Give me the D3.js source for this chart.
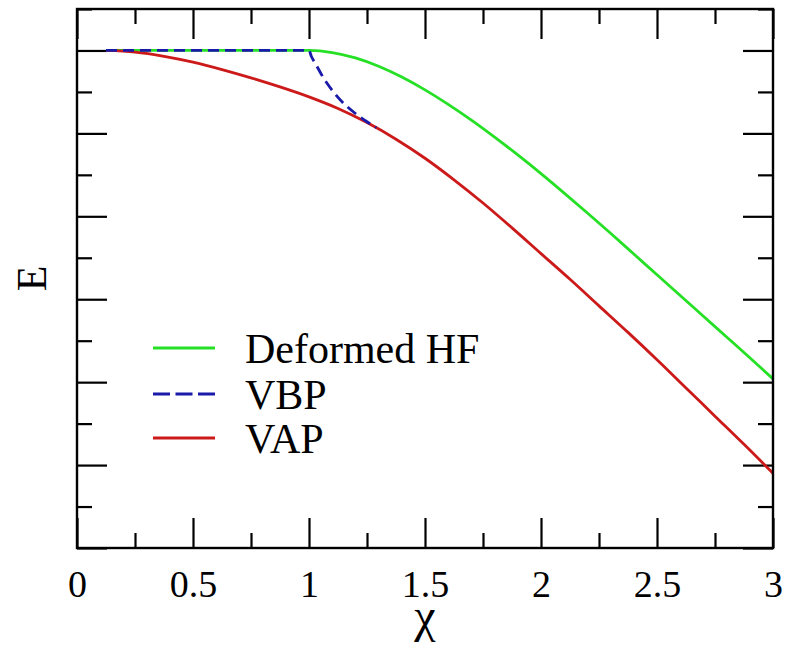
<!DOCTYPE html>
<html>
<head>
<meta charset="utf-8">
<script src="https://cdn.jsdelivr.net/npm/d3@7"></script>
<style>
  html, body { margin: 0; padding: 0; background: #fff; }
  svg { display: block; }
  text { font-family: "Liberation Serif", "Times New Roman", serif; fill: #000; }
</style>
</head>
<body>
<svg id="chart" width="788" height="650"></svg>
<script>
// ---------- data ----------
const hfChi = [0.125, 0.25, 0.5, 0.75, 1.0, 1.1, 1.2, 1.3, 1.4, 1.5, 1.6, 1.7, 1.8, 1.9, 2.0, 2.1, 2.2, 2.3, 2.4, 2.5, 2.6, 2.7, 2.8, 2.9, 3.0];
const hfE   = [0, 0, 0, 0, 0, -0.025, -0.09, -0.19, -0.32, -0.475, -0.65, -0.84, -1.045, -1.26, -1.485, -1.72, -1.96, -2.205, -2.455, -2.705, -2.955, -3.205, -3.455, -3.705, -3.96];

const vbpChi = [0.125, 0.25, 0.5, 0.75, 1.0, 1.01, 1.03, 1.06, 1.1, 1.15, 1.2, 1.25, 1.29];
const vbpE   = [0, 0, 0, 0, 0, -0.07, -0.17, -0.32, -0.48, -0.64, -0.76, -0.86, -0.93];

const vapChi = [0.125, 0.25, 0.375, 0.5, 0.625, 0.75, 0.875, 1.0, 1.125, 1.25, 1.375, 1.5, 1.625, 1.75, 1.875, 2.0, 2.125, 2.25, 2.375, 2.5, 2.625, 2.75, 2.875, 3.0];
const vapE   = [0, -0.02, -0.07, -0.14, -0.23, -0.33, -0.44, -0.56, -0.70, -0.87, -1.07, -1.30, -1.56, -1.84, -2.14, -2.45, -2.76, -3.08, -3.40, -3.73, -4.07, -4.41, -4.75, -5.10];

const seriesNames  = ["Deformed HF", "VBP", "VAP"];
const seriesColors = ["#26e026", "#1a1aaa", "#cc1a1a"];

const xMajorTicks = [0, 0.5, 1, 1.5, 2, 2.5, 3];
const xTickLabels = ["0", "0.5", "1", "1.5", "2", "2.5", "3"];
const xMinorTicks = [0.25, 0.75, 1.25, 1.75, 2.25, 2.75];
const yMajorTicks = [-6, -5, -4, -3, -2, -1, 0];
const yMinorTicks = [-5.5, -4.5, -3.5, -2.5, -1.5, -0.5, 0.5];

// ---------- layout ----------
const L = 77, R = 773, T = 9, B = 548;
const svg = d3.select("#chart");

const x = d3.scaleLinear().domain([0, 3]).range([L, R]);
const y = d3.scaleLinear().domain([-6, 0.5]).range([B, T]);

function styleAxis(g) {
  g.select(".domain").remove();
  g.selectAll(".tick line").attr("stroke", "#000").attr("stroke-width", 2.2);
}

// bottom
svg.append("g").attr("transform", `translate(0,${B})`)
  .call(d3.axisBottom(x).tickValues(xMajorTicks).tickSize(-30)
        .tickFormat((d, i) => xTickLabels[i]))
  .call(styleAxis)
  .call(g => g.selectAll(".tick text")
     .attr("y", 49).attr("dy", null)
     .style("font-size", "38px")
     .style("font-family", "'Liberation Serif', serif"));
svg.append("g").attr("transform", `translate(0,${B})`)
  .call(d3.axisBottom(x).tickValues(xMinorTicks).tickSize(-15).tickFormat(""))
  .call(styleAxis);
// top
svg.append("g").attr("transform", `translate(0,${T})`)
  .call(d3.axisTop(x).tickValues(xMajorTicks).tickSize(-30).tickFormat(""))
  .call(styleAxis);
svg.append("g").attr("transform", `translate(0,${T})`)
  .call(d3.axisTop(x).tickValues(xMinorTicks).tickSize(-15).tickFormat(""))
  .call(styleAxis);
// left
svg.append("g").attr("transform", `translate(${L},0)`)
  .call(d3.axisLeft(y).tickValues(yMajorTicks).tickSize(-30).tickFormat(""))
  .call(styleAxis);
svg.append("g").attr("transform", `translate(${L},0)`)
  .call(d3.axisLeft(y).tickValues(yMinorTicks).tickSize(-15).tickFormat(""))
  .call(styleAxis);
// right
svg.append("g").attr("transform", `translate(${R},0)`)
  .call(d3.axisRight(y).tickValues(yMajorTicks).tickSize(-30).tickFormat(""))
  .call(styleAxis);
svg.append("g").attr("transform", `translate(${R},0)`)
  .call(d3.axisRight(y).tickValues(yMinorTicks).tickSize(-15).tickFormat(""))
  .call(styleAxis);

// ---------- curves ----------
const line = d3.line().x(d => x(d[0])).y(d => y(d[1])).curve(d3.curveMonotoneX);
const zip = (a, b) => a.map((v, i) => [v, b[i]]);

svg.append("path").datum(zip(hfChi, hfE))
  .attr("d", line).attr("fill", "none")
  .attr("stroke", seriesColors[0]).attr("stroke-width", 2.8);
svg.append("path").datum(zip(vapChi, vapE))
  .attr("d", line).attr("fill", "none")
  .attr("stroke", seriesColors[2]).attr("stroke-width", 2.8);
svg.append("path").datum(zip(vbpChi, vbpE))
  .attr("d", line).attr("fill", "none")
  .attr("stroke", seriesColors[1]).attr("stroke-width", 2.8)
  .attr("stroke-dasharray", "11,6");

// frame
svg.append("rect").attr("x", L).attr("y", T)
  .attr("width", R - L).attr("height", B - T)
  .attr("fill", "none").attr("stroke", "#000").attr("stroke-width", 2.4);

// ---------- legend ----------
const legY = [348, 394, 438];
const leg = svg.append("g");
seriesNames.forEach((name, i) => {
  leg.append("line")
    .attr("x1", 153).attr("x2", 215).attr("y1", legY[i]).attr("y2", legY[i])
    .attr("stroke", seriesColors[i]).attr("stroke-width", 2.8)
    .attr("stroke-dasharray", i === 1 ? "17,5.5" : null);
  leg.append("text")
    .attr("x", 245).attr("y", legY[i] + 15)
    .style("font-size", "42px")
    .text(name);
});

// ---------- axis titles ----------
svg.append("text")
  .attr("x", (L + R) / 2).attr("y", 632)
  .attr("text-anchor", "middle")
  .style("font-size", "48px")
  .text("χ");
svg.append("text")
  .attr("transform", `translate(46,${(T + B) / 2}) rotate(-90)`)
  .attr("text-anchor", "middle")
  .style("font-size", "42px")
  .text("E");
</script>
</body>
</html>
